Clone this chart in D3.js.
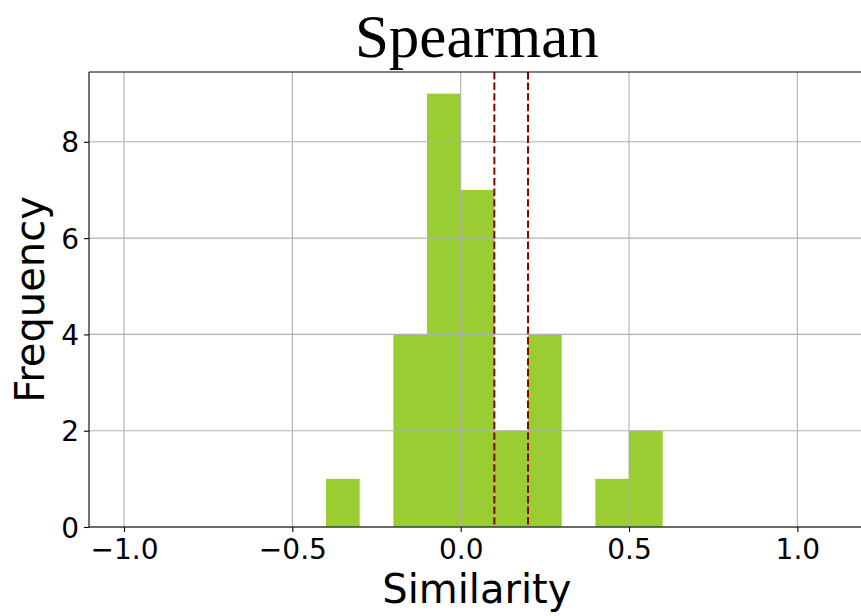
<!DOCTYPE html>
<html>
<head>
<meta charset="utf-8">
<script src="https://cdn.jsdelivr.net/npm/d3@7"></script>
<style>
  html, body { margin: 0; padding: 0; background: #fff; }
  svg { display: block; }
</style>
</head>
<body>
<svg id="chart" width="861" height="616"></svg>
<script>
// ---- data ----
const title = "Spearman";
const xLabel = "Similarity";
const yLabel = "Frequency";
const binEdges = [-0.4, -0.3, -0.2, -0.1, 0.0, 0.1, 0.2, 0.3, 0.4, 0.5, 0.6];
const counts   = [1, 0, 4, 9, 7, 2, 4, 0, 1, 2];
const refLines = [0.1, 0.2];
const xTicks = [-1.0, -0.5, 0.0, 0.5, 1.0];
const yTicks = [0, 2, 4, 6, 8];

(function () {
// ---- layout ----
const svg = d3.select("#chart");
const pL = 89, pR = 864.7, pT = 72, pB = 527;

const x = d3.scaleLinear().domain([-1.104, 1.2]).range([pL, pR]);
const y = d3.scaleLinear().domain([0, 9.45]).range([pB, pT]);

const bins = counts.map((c, i) => ({x0: binEdges[i], x1: binEdges[i + 1], c}));

// bars
svg.append("g").selectAll("rect").data(bins.filter(d => d.c > 0)).join("rect")
  .attr("x", d => x(d.x0))
  .attr("width", d => x(d.x1) - x(d.x0))
  .attr("y", d => y(d.c))
  .attr("height", d => y(0) - y(d.c))
  .attr("fill", "#9acd32");

// grid (above bars, like matplotlib default)
const grid = svg.append("g").attr("stroke", "#b0b0b0").attr("stroke-width", 1.1);
grid.selectAll("line.gx").data(xTicks).join("line").attr("class", "gx")
  .attr("x1", d => x(d)).attr("x2", d => x(d))
  .attr("y1", pT).attr("y2", pB);
grid.selectAll("line.gy").data(yTicks).join("line").attr("class", "gy")
  .attr("x1", pL).attr("x2", pR)
  .attr("y1", d => y(d)).attr("y2", d => y(d));

// reference dashed lines
svg.append("g").selectAll("line").data(refLines).join("line")
  .attr("x1", d => x(d)).attr("x2", d => x(d))
  .attr("y1", pT).attr("y2", pB)
  .attr("stroke", "#8b0000").attr("stroke-width", 2)
  .attr("stroke-dasharray", "7.4,3.2");

// axes
const fmtX = d => d3.format(".1f")(d).replace("-", "\u2212");
const xAxis = d3.axisBottom(x).tickValues(xTicks).tickFormat(fmtX).tickSize(5).tickPadding(5);
const yAxis = d3.axisLeft(y).tickValues(yTicks).tickFormat(d3.format("d")).tickSize(5).tickPadding(5);

const gx = svg.append("g").attr("transform", `translate(0,${pB})`).call(xAxis);
const gy = svg.append("g").attr("transform", `translate(${pL},0)`).call(yAxis);
[gx, gy].forEach(g => {
  g.select(".domain").remove();
  g.selectAll(".tick line").attr("stroke", "#000").attr("stroke-width", 1.1);
  g.selectAll(".tick text").attr("fill", "#000")
    .style("font-family", "'DejaVu Sans', sans-serif").style("font-size", "28px");
});
gx.selectAll(".tick text").attr("dy", "0.78em");
gy.selectAll(".tick text").attr("dy", "0.36em");

// spines
const sp = svg.append("g").attr("stroke", "#000").attr("stroke-width", 1.1).attr("fill", "none");
sp.append("line").attr("x1", pL).attr("x2", pL).attr("y1", pT).attr("y2", pB);
sp.append("line").attr("x1", pL).attr("x2", pR).attr("y1", pB).attr("y2", pB);
sp.append("line").attr("x1", pL).attr("x2", pR).attr("y1", pT).attr("y2", pT);
sp.append("line").attr("x1", pR).attr("x2", pR).attr("y1", pT).attr("y2", pB);

// labels
svg.append("text").attr("x", (pL + pR) / 2).attr("y", 603)
  .attr("text-anchor", "middle")
  .style("font-family", "'DejaVu Sans', sans-serif").style("font-size", "40px")
  .text(xLabel);
svg.append("text")
  .attr("transform", `translate(44,${(pT + pB) / 2}) rotate(-90)`)
  .attr("text-anchor", "middle")
  .style("font-family", "'DejaVu Sans', sans-serif").style("font-size", "40px")
  .text(yLabel);
svg.append("text").attr("x", (pL + pR) / 2).attr("y", 57)
  .attr("text-anchor", "middle")
  .style("font-family", "'Liberation Serif', 'Times New Roman', serif").style("font-size", "61px")
  .text(title);
})();
</script>
</body>
</html>
